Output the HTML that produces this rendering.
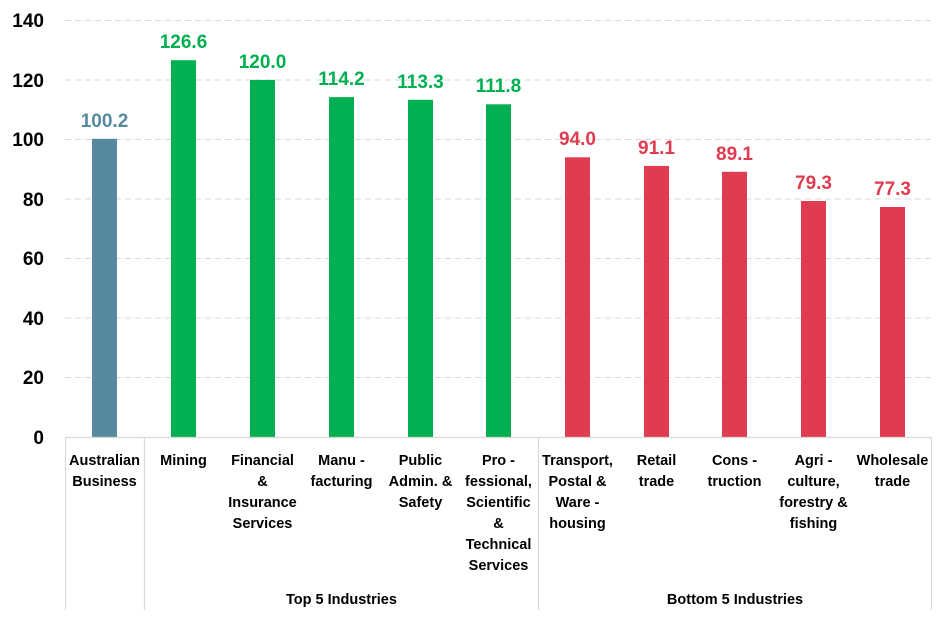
<!DOCTYPE html>
<html><head><meta charset="utf-8"><style>
body{margin:0;background:#fff}
</style></head><body>
<svg width="945" height="617" viewBox="0 0 945 617" xmlns="http://www.w3.org/2000/svg" font-family="Liberation Sans, sans-serif" font-weight="bold">
<g stroke="#d9d9d9" stroke-width="1" stroke-dasharray="6,4">
<line x1="65" x2="932" y1="20.5" y2="20.5"/>
<line x1="65" x2="932" y1="80" y2="80"/>
<line x1="65" x2="932" y1="139.5" y2="139.5"/>
<line x1="65" x2="932" y1="199" y2="199"/>
<line x1="65" x2="932" y1="258.5" y2="258.5"/>
<line x1="65" x2="932" y1="318" y2="318"/>
<line x1="65" x2="932" y1="377.5" y2="377.5"/>
</g>
<g font-size="19" text-anchor="end" fill="#000">
<text x="44" y="27">140</text><text x="44" y="87">120</text><text x="44" y="146">100</text>
<text x="44" y="206">80</text><text x="44" y="265">60</text><text x="44" y="325">40</text>
<text x="44" y="384">20</text><text x="44" y="444">0</text>
</g>
<g>
<rect x="92" y="138.8" width="25" height="298.2" fill="#588a9f"/>
<rect x="171" y="60.2" width="25" height="376.8" fill="#00b050"/>
<rect x="250" y="79.9" width="25" height="357.1" fill="#00b050"/>
<rect x="329" y="97.1" width="25" height="339.9" fill="#00b050"/>
<rect x="408" y="99.8" width="25" height="337.2" fill="#00b050"/>
<rect x="486" y="104.3" width="25" height="332.7" fill="#00b050"/>
<rect x="565" y="157.3" width="25" height="279.7" fill="#e03c50"/>
<rect x="644" y="165.9" width="25" height="271.1" fill="#e03c50"/>
<rect x="722" y="171.8" width="25" height="265.2" fill="#e03c50"/>
<rect x="801" y="201" width="25" height="236" fill="#e03c50"/>
<rect x="880" y="207" width="25" height="230" fill="#e03c50"/>
</g>
<g font-size="19" text-anchor="middle">
<text x="104.5" y="127" fill="#588a9f">100.2</text>
<text x="183.5" y="48" fill="#00b050">126.6</text>
<text x="262.5" y="68" fill="#00b050">120.0</text>
<text x="341.5" y="85" fill="#00b050">114.2</text>
<text x="420.5" y="88" fill="#00b050">113.3</text>
<text x="498.5" y="92" fill="#00b050">111.8</text>
<text x="577.5" y="145" fill="#e03c50">94.0</text>
<text x="656.5" y="154" fill="#e03c50">91.1</text>
<text x="734.5" y="160" fill="#e03c50">89.1</text>
<text x="813.5" y="189" fill="#e03c50">79.3</text>
<text x="892.5" y="195" fill="#e03c50">77.3</text>
</g>
<g stroke="#d9d9d9" stroke-width="1.2">
<line x1="65" x2="932" y1="437.5" y2="437.5"/>
<line x1="65.5" x2="65.5" y1="437" y2="610"/>
<line x1="144.5" x2="144.5" y1="437" y2="610"/>
<line x1="538.5" x2="538.5" y1="437" y2="610"/>
<line x1="931.5" x2="931.5" y1="437" y2="610"/>
</g>
<g font-size="14.5" text-anchor="middle" fill="#000">
<text x="104.5" y="465">Australian</text><text x="104.5" y="486">Business</text>
<text x="183.5" y="465">Mining</text>
<text x="262.5" y="465">Financial</text><text x="262.5" y="486">&amp;</text><text x="262.5" y="507">Insurance</text><text x="262.5" y="528">Services</text>
<text x="341.5" y="465">Manu -</text><text x="341.5" y="486">facturing</text>
<text x="420.5" y="465">Public</text><text x="420.5" y="486">Admin. &amp;</text><text x="420.5" y="507">Safety</text>
<text x="498.5" y="465">Pro -</text><text x="498.5" y="486">fessional,</text><text x="498.5" y="507">Scientific</text><text x="498.5" y="528">&amp;</text><text x="498.5" y="549">Technical</text><text x="498.5" y="570">Services</text>
<text x="577.5" y="465">Transport,</text><text x="577.5" y="486">Postal &amp;</text><text x="577.5" y="507">Ware -</text><text x="577.5" y="528">housing</text>
<text x="656.5" y="465">Retail</text><text x="656.5" y="486">trade</text>
<text x="734.5" y="465">Cons -</text><text x="734.5" y="486">truction</text>
<text x="813.5" y="465">Agri -</text><text x="813.5" y="486">culture,</text><text x="813.5" y="507">forestry &amp;</text><text x="813.5" y="528">fishing</text>
<text x="892.5" y="465">Wholesale</text><text x="892.5" y="486">trade</text>
<text x="341.5" y="604">Top 5 Industries</text>
<text x="735" y="604">Bottom 5 Industries</text>
</g>
</svg>
</body></html>
